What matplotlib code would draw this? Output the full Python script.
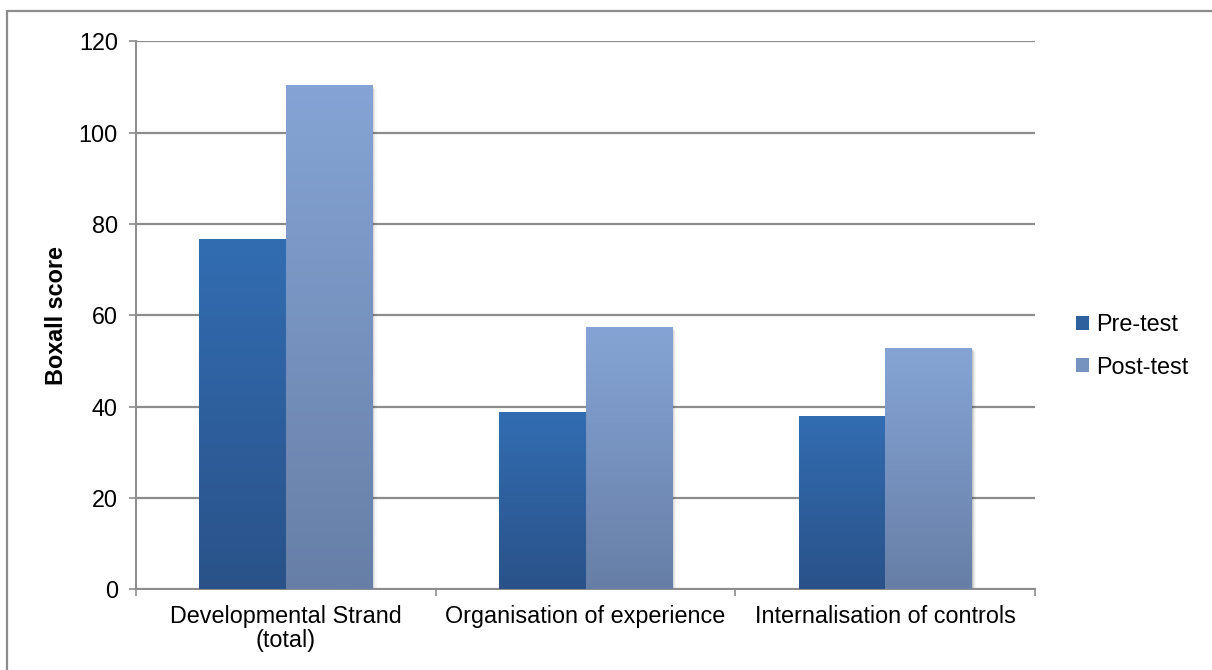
import numpy as np
import matplotlib
matplotlib.use("Agg")
import matplotlib.pyplot as plt
from matplotlib.colors import LinearSegmentedColormap
from matplotlib.patches import Rectangle
from matplotlib import transforms

plt.rcParams['font.family'] = ['Liberation Sans', 'DejaVu Sans']

categories = ['Developmental Strand\n(total)', 'Organisation of experience', 'Internalisation of controls']
pre_test = [76.7, 38.8, 37.9]
post_test = [110.4, 57.4, 52.8]
series_names = ['Pre-test', 'Post-test']
y_ticks = [0, 20, 40, 60, 80, 100, 120]

# top colour -> bottom colour for each series
pre_cmap = LinearSegmentedColormap.from_list('pre', ['#2a5289', '#326db2'])
post_cmap = LinearSegmentedColormap.from_list('post', ['#677fa7', '#85a4d5'])

FS = 16.8

fig = plt.figure(figsize=(12.12, 6.70), dpi=100)
ax = fig.add_axes([0.1122, 0.1204, 0.854 - 0.1122, 0.9384 - 0.1204])

grad = np.linspace(0, 1, 256).reshape(-1, 1)
x = np.arange(len(categories)) + 0.5
width = 0.2887


def gradient_bars(xs, heights, cmap, name):
    bars = ax.bar(xs, heights, width=width, align='edge', color=cmap(0.6),
                  label=name, zorder=3, linewidth=0)
    for b in bars:
        x0, w, h = b.get_x(), b.get_width(), b.get_height()
        # soft shadow on the right and bottom
        for k, a in zip([1, 2, 3, 4], [0.10, 0.07, 0.05, 0.03]):
            tr = transforms.offset_copy(ax.transData, fig=fig, x=k * 0.75, y=-k * 0.75, units='points')
            ax.add_patch(Rectangle((x0, 0), w, h, transform=tr, facecolor='black',
                                   alpha=a, linewidth=0, zorder=2))
        im = ax.imshow(grad, cmap=cmap, aspect='auto', origin='lower',
                       extent=[x0, x0 + w, 0, h], zorder=4)
        im.set_clip_path(b)
    return bars


gradient_bars(x - width, pre_test, pre_cmap, series_names[0])
gradient_bars(x, post_test, post_cmap, series_names[1])

ax.set_xlim(0, 3)
ax.set_ylim(0, 120)
ax.set_yticks(y_ticks)
ax.yaxis.grid(True, color='#8c8c8c', linewidth=1.6, zorder=1)
ax.set_axisbelow(True)

# boundary ticks on the category axis, labels centred between them
ax.set_xticks([0, 1, 2, 3])
ax.set_xticklabels([])
ax.set_xticks(x, minor=True)
ax.set_xticklabels(categories, minor=True, fontsize=FS, linespacing=1.1)
ax.tick_params(axis='x', which='major', length=5, color='#8c8c8c', width=1.2)
ax.tick_params(axis='x', which='minor', length=0, pad=11)
ax.tick_params(axis='y', length=5, color='#8c8c8c', width=1.2, labelsize=FS, pad=8)

for side in ['top', 'right']:
    ax.spines[side].set_visible(False)
for side in ['left', 'bottom']:
    ax.spines[side].set_color('#8c8c8c')
    ax.spines[side].set_linewidth(1.4)

ax.set_ylabel('Boxall score', fontsize=FS, fontweight='bold', labelpad=7.5)

# legend with square swatches
handles = [Rectangle((0, 0), 1, 1, facecolor=pre_cmap(0.5)),
           Rectangle((0, 0), 1, 1, facecolor=post_cmap(0.5))]
fig.legend(handles, series_names, loc='center left', bbox_to_anchor=(0.8705, 0.484),
           frameon=False, fontsize=FS, handlelength=0.55, handleheight=0.55,
           handletextpad=0.3, labelspacing=0.85)

# chart frame
fig.add_artist(Rectangle((7 / 1212, -0.1), 1.2, 1 - 11 / 670 + 0.1, transform=fig.transFigure,
                         fill=False, edgecolor='#8c8c8c', linewidth=1.6))

fig.savefig('out.png', dpi=100)
